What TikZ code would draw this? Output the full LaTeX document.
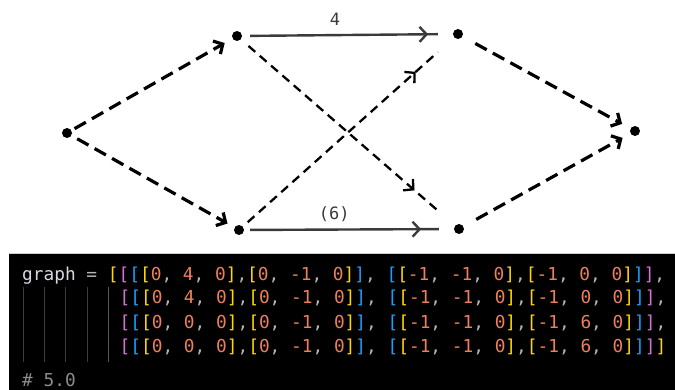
\documentclass[tikz,border=0pt]{standalone}
\usepackage{fontspec}
\usetikzlibrary{arrows.meta,decorations.markings}
\newfontfamily\codefont{DejaVu Sans Mono}
\definecolor{brY}{HTML}{FFD700}
\definecolor{brP}{HTML}{DA70D6}
\definecolor{brB}{HTML}{179FFF}
\definecolor{numc}{HTML}{EC7F5C}
\definecolor{comc}{HTML}{B4B4B4}
\definecolor{txtc}{HTML}{D8D8E2}
\definecolor{cmtc}{HTML}{8C8C8C}
\definecolor{guidec}{HTML}{3C3C3C}
\definecolor{edgec}{HTML}{3A3A3A}
\newcommand\Yb[1]{\textcolor{brY}{#1}}
\newcommand\Pb[1]{\textcolor{brP}{#1}}
\newcommand\Bb[1]{\textcolor{brB}{#1}}
\newcommand\Nm[1]{\textcolor{numc}{#1}}
\newcommand\Cm[1]{\textcolor{comc}{#1}}
\newcommand\trip[3]{\Nm{#1}\Cm{,} \Nm{#2}\Cm{,} \Nm{#3}}
\newcommand\coderow[2]{\Pb{[}\Bb{[}\Yb{[}\trip{0}{#1}{0}\Yb{]}\Cm{,}\Yb{[}\trip{0}{-1}{0}\Yb{]}\Bb{]}\Cm{,} \Bb{[}\Yb{[}\trip{-1}{-1}{0}\Yb{]}\Cm{,}\Yb{[}\trip{-1}{#2}{0}\Yb{]}\Bb{]}\Pb{]}}
\tikzset{
  dot/.style={circle,fill=black,minimum size=10pt,inner sep=0pt},
  outer/.style={line width=3.2pt,dash pattern=on 13pt off 7pt,-{Straight Barb[length=7pt,width=15pt]}},
  cross/.style={line width=2.3pt,dash pattern=on 9pt off 6pt},
  solid edge/.style={line width=2.4pt,draw=edgec},
  midarrow/.style={postaction={decorate,decoration={markings,mark=at position #1 with {\arrow{Straight Barb[length=7pt,width=15pt]}}}}},
  codeline/.style={anchor=base west,inner sep=0pt,font=\codefont\fontsize{17.8}{20}\selectfont},
  lbl/.style={font=\codefont\fontsize{17}{20}\selectfont,inner sep=0pt,text=edgec}
}
\begin{document}
\begin{tikzpicture}[x=1pt,y=-1pt]
\useasboundingbox (0,0) rectangle (675,390);
% code panel
\fill[black] (9,254) rectangle (675,390);
\draw[gray!40,line width=1pt] (9,253.5) -- (675,253.5);
\foreach \gx in {23,44,65,87} \draw[guidec,line width=1pt] (\gx,287) -- (\gx,362);
\draw[gray!70!black,line width=1pt] (108.5,287) -- (108.5,362);
\node[codeline] (l1) at (22,280) {\textcolor{txtc}{graph} \textcolor{comc}{=} \Yb{[}\coderow{4}{0}\Cm{,}};
\node[codeline] (l2) at (119.5,304) {\coderow{4}{0}\Cm{,}};
\node[codeline] (l3) at (119.5,328) {\coderow{0}{6}\Cm{,}};
\node[codeline] (l4) at (119.5,352) {\coderow{0}{6}\Yb{]}};
\node[codeline,text=cmtc] (res) at (22,386) {\# 5.0};
% graph
\node[dot] (S) at (67,133) {};
\node[dot] (A) at (237,36) {};
\node[dot] (B) at (239,230) {};
\node[dot] (C) at (458,34) {};
\node[dot] (D) at (459,229) {};
\node[dot] (T) at (635,131) {};
\draw[outer,shorten <=3.5pt,shorten >=9pt] (S) -- (A);
\draw[outer,shorten <=6.5pt,shorten >=8pt] (S) -- (B);
\draw[outer,shorten <=14.5pt,shorten >=9.5pt] (C) -- (T);
\draw[outer,shorten <=14.5pt,shorten >=9pt] (D) -- (T);
\draw[cross,shorten <=10pt,shorten >=22pt,midarrow=230pt] (A) -- (D);
\draw[cross,shorten <=6.5pt,shorten >=22pt,midarrow=232pt] (B) -- (C);
\draw[solid edge,shorten <=8pt,shorten >=15pt,midarrow=186pt] (A) -- (C) node[lbl,pos=0.44,above=8pt] (w1) {4};
\draw[solid edge,shorten <=6pt,shorten >=15pt,midarrow=177pt] (B) -- (D) node[lbl,pos=0.43,above=7pt] (w2) {(6)};
\end{tikzpicture}
\end{document}
